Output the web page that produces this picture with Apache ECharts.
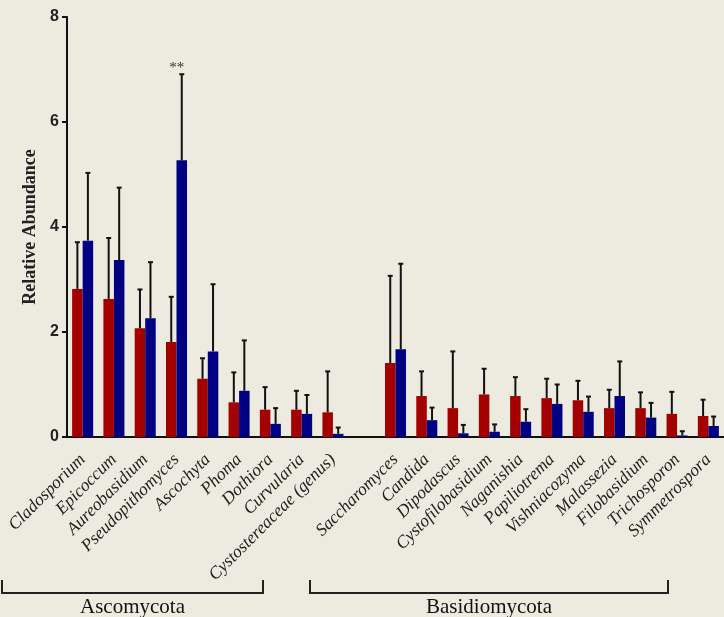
<!DOCTYPE html>
<html><head><meta charset="utf-8">
<script src="https://cdn.jsdelivr.net/npm/echarts@6/dist/echarts.min.js"></script>
<style>html,body{margin:0;padding:0;background:#EDEAE0;overflow:hidden;} #c{width:724px;height:617px;}</style>
</head><body><div id="c"></div>
<script>
const categories = ['Cladosporium','Epicoccum','Aureobasidium','Pseudopithomyces','Ascochyta','Phoma','Dothiora','Curvularia','Cystostereaceae (genus)','',
  'Saccharomyces','Candida','Dipodascus','Cystofilobasidium','Naganishia','Papiliotrema','Vishniacozyma','Malassezia','Filobasidium','Trichosporon','Symmetrospora'];
const redMean = [2.82,2.63,2.07,1.81,1.11,0.66,0.52,0.52,0.47,null,1.41,0.78,0.55,0.81,0.78,0.74,0.70,0.55,0.55,0.44,0.40];
const redErr  = [0.89,1.16,0.74,0.86,0.39,0.57,0.43,0.36,0.78,null,1.66,0.47,1.08,0.49,0.36,0.37,0.37,0.35,0.30,0.42,0.31];
const blueMean = [3.74,3.37,2.26,5.27,1.63,0.88,0.25,0.44,0.06,null,1.67,0.32,0.07,0.10,0.29,0.63,0.48,0.78,0.37,0.03,0.21];
const blueErr  = [1.29,1.38,1.07,1.64,1.28,0.96,0.30,0.36,0.12,null,1.63,0.24,0.16,0.14,0.24,0.37,0.29,0.66,0.28,0.08,0.18];
const blueMarks = ['','','','**','','','','','','','','','','','','','','','','',''];
const yMin = 0, yMax = 8, yStep = 2;
const groups = [
  {name:'Ascomycota', x0:2, x1:263},
  {name:'Basidiomycota', x0:310, x1:668}
];

const BAR_FRAC = 0.336;
const RED = '#A30000', BLUE = '#000082';

function errSeries(means, errs, side, marks){
  const data = means.map((m,i)=> m==null ? null : [i, m, errs[i]]).filter(d=>d);
  return {
    type:'custom', z:5, silent:true,
    encode:{x:0, y:1},
    data: data,
    renderItem: function(params, api){
      const idx = api.value(0), m = api.value(1), e = api.value(2);
      const bw = api.size([1,0])[0];
      const off = side * bw * BAR_FRAC / 2;
      const p0 = api.coord([idx, m]);
      const p1 = api.coord([idx, m + e]);
      const x = p0[0] + off;
      const children = [
        {type:'line', shape:{x1:x, y1:p0[1], x2:x, y2:p1[1]}, style:{stroke:'#111', lineWidth:2}},
        {type:'line', shape:{x1:x-2.5, y1:p1[1], x2:x+2.5, y2:p1[1]}, style:{stroke:'#111', lineWidth:2}}
      ];
      const mk = marks ? marks[idx] : '';
      if (mk) {
        children.push({type:'text', x:x-5, y:p1[1]-6, style:{text:mk, fontFamily:'Liberation Serif', fontSize:15, fill:'#333', align:'center', verticalAlign:'middle'}});
      }
      return {type:'group', children: children};
    }
  };
}

const chart = echarts.init(document.getElementById('c'), null, {renderer:'canvas'});
chart.setOption({
  backgroundColor:'#EDEAE0',
  animation:false,
  grid:{left:67, top:17, width:669, height:420, containLabel:false},
  xAxis:{
    type:'category', data:categories,
    axisLine:{lineStyle:{color:'#111', width:2}},
    axisTick:{alignWithLabel:true, length:5, lineStyle:{color:'#111', width:2}},
    axisLabel:{interval:0, rotate:45, margin:20, fontStyle:'italic', fontFamily:'Liberation Serif', fontSize:17.5, color:'#222'}
  },
  yAxis:{
    type:'value', min:yMin, max:yMax, interval:yStep,
    name:'Relative Abundance', nameLocation:'middle', nameGap:21,
    nameTextStyle:{fontFamily:'Liberation Serif', fontWeight:'bold', fontSize:18, color:'#222'},
    axisLine:{show:true, lineStyle:{color:'#111', width:2}},
    axisTick:{show:true, length:5, lineStyle:{color:'#111', width:2}},
    axisLabel:{fontFamily:'Liberation Sans', fontWeight:'bold', fontSize:16, color:'#222', margin:8},
    splitLine:{show:false}
  },
  series:[
    {type:'bar', data:redMean, barWidth:(BAR_FRAC*100)+'%', barGap:'0%', itemStyle:{color:RED}},
    {type:'bar', data:blueMean, barWidth:(BAR_FRAC*100)+'%', barGap:'0%', itemStyle:{color:BLUE}},
    errSeries(redMean, redErr, -1, null),
    errSeries(blueMean, blueErr, 1, blueMarks)
  ],
  graphic: groups.flatMap(g => [
    {type:'polyline', shape:{points:[[g.x0,580],[g.x0,593],[g.x1,593],[g.x1,580]]}, style:{stroke:'#222', lineWidth:2, fill:null}},
    {type:'text', x:(g.x0+g.x1)/2, y:607, style:{text:g.name, fontFamily:'Liberation Serif', fontSize:21, fill:'#111', align:'center', verticalAlign:'middle'}}
  ])
});
</script>
</body></html>
